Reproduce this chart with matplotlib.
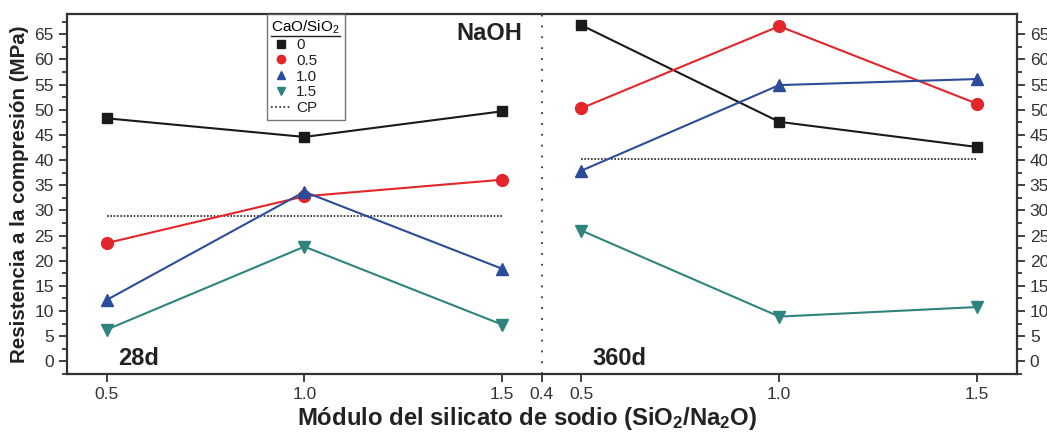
import matplotlib
matplotlib.use("Agg")
import matplotlib.pyplot as plt
from matplotlib.lines import Line2D
from matplotlib.ticker import MultipleLocator

plt.rcParams['font.family'] = ['Liberation Sans', 'DejaVu Sans']
plt.rcParams['mathtext.fontset'] = 'custom'
plt.rcParams['mathtext.rm'] = 'Liberation Sans'
plt.rcParams['mathtext.bf'] = 'Liberation Sans:bold'
plt.rcParams['mathtext.it'] = 'Liberation Sans:italic'

# ---- data ----
modulus = [0.5, 1.0, 1.5]
ratios = ["0", "0.5", "1.0", "1.5"]
d28_r0 = [48.3, 44.6, 49.7]
d28_r05 = [23.5, 32.8, 36.1]
d28_r10 = [12.2, 33.7, 18.4]
d28_r15 = [6.3, 22.8, 7.3]
d360_r0 = [66.8, 47.6, 42.6]
d360_r05 = [50.3, 66.6, 51.2]
d360_r10 = [37.9, 54.9, 56.1]
d360_r15 = [26.0, 8.9, 10.8]
cp_28 = 28.9
cp_360 = 40.2
tick_labels = ["0.5", "1.0", "1.5", "0.4", "0.5", "1.0", "1.5"]

# ---- layout ----
shift = 1.2  # right panel offset
colors = ["#1a1a1a", "#e3262b", "#2c4c9a", "#2f847d"]
markers = ["s", "o", "^", "v"]
msizes = [7, 8.5, 8.5, 8.5]

fig = plt.figure(figsize=(10.47, 4.32), dpi=100)
ax = fig.add_axes([0.064, 0.1343, 0.907, 0.833])

left_sets = [d28_r0, d28_r05, d28_r10, d28_r15]
right_sets = [d360_r0, d360_r05, d360_r10, d360_r15]
xr = [m + shift for m in modulus]
for i in range(4):
    ax.plot(modulus, left_sets[i], color=colors[i], marker=markers[i], ms=msizes[i], lw=1.5, zorder=3)
    ax.plot(xr, right_sets[i], color=colors[i], marker=markers[i], ms=msizes[i], lw=1.5, zorder=3)

ax.plot([modulus[0], modulus[-1]], [cp_28, cp_28], color="#222222", ls=(0, (1, 1)), lw=1.2)
ax.plot([xr[0], xr[-1]], [cp_360, cp_360], color="#222222", ls=(0, (1, 1)), lw=1.2)
ax.axvline(0.4 + shift, color="#333333", ls=(0, (1, 5)), lw=1.3)

ax.set_xlim(0.4, 1.6 + shift)
ax.set_ylim(-2.5, 69)
ax.set_xticks(modulus + [0.4 + shift] + xr)
ax.set_xticklabels(tick_labels)
ax.yaxis.set_major_locator(MultipleLocator(5))
ax.yaxis.set_minor_locator(MultipleLocator(2.5))
ax.set_yticks(list(range(0, 70, 5)))
ax.tick_params(axis='both', which='major', direction='out', length=6, width=1.3,
               labelsize=12.5, labelcolor="#333333", color="#333333")
ax.tick_params(axis='y', which='both', right=True, labelright=True)
ax.tick_params(axis='y', which='minor', direction='out', length=3.5, width=1.3, color="#333333")
for s in ax.spines.values():
    s.set_linewidth(1.6)
    s.set_color("#333333")

ax.set_ylabel("Resistencia a la compresión (MPa)", fontsize=14.8, fontweight='bold', color="#222222", labelpad=4)
ax.set_xlabel("Módulo del silicato de sodio (SiO$_\\mathbf{2}$/Na$_\\mathbf{2}$O)", fontsize=17.2,
              fontweight='bold', color="#222222", labelpad=2, x=0.484, ha='center')

ax.text(1.55, 65.2, "NaOH", fontsize=17, fontweight='bold', ha='right', va='center', color="#222222")
ax.text(0.53, 0.5, "28d", fontsize=17, fontweight='bold', ha='left', va='center', color="#222222")
ax.text(1.727, 0.5, "360d", fontsize=17, fontweight='bold', ha='left', va='center', color="#222222")

handles = [Line2D([], [], color=colors[i], marker=markers[i], ls='none', ms=6) for i in range(4)]
handles.append(Line2D([], [], color="#222222", ls=(0, (1, 1.5)), lw=1.2))
leg = ax.legend(handles, ratios + ["CP"], title="CaO/SiO$_2$", loc='upper left',
                bbox_to_anchor=(0.2105, 1.0), borderaxespad=0, fontsize=11,
                title_fontsize=11, frameon=True, fancybox=False, handlelength=1.3,
                handletextpad=0.3, labelspacing=0.12, borderpad=0.3)
leg.get_frame().set_edgecolor("#555555")
leg.get_frame().set_linewidth(1.0)
for t in leg.get_texts():
    t.set_color("#222222")
leg._legend_box.align = "left"

fig.canvas.draw()
tb = leg.get_title().get_window_extent()
inv = fig.transFigure.inverted()
(x0, y0), (x1, y1) = inv.transform([[tb.x0, tb.y0], [tb.x1, tb.y1]])
fig.add_artist(Line2D([x0, x1], [y0, y0], color="#222222", lw=1.0, transform=fig.transFigure))

fig.savefig("out.png", dpi=100)
